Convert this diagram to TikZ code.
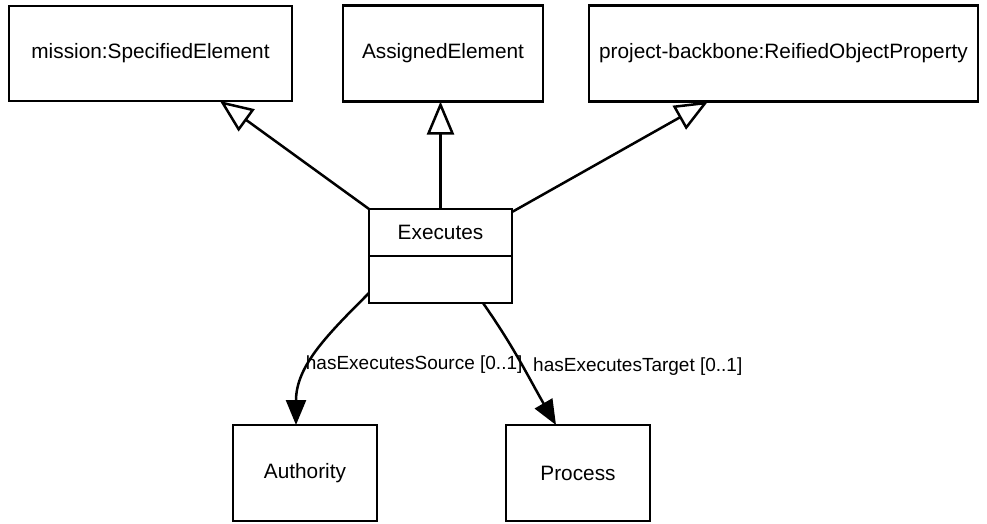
\documentclass[tikz,border=0pt]{standalone}
\usepackage{fontspec}
\setmainfont{Liberation Sans}
\usetikzlibrary{arrows.meta,positioning}

\begin{document}
\begin{tikzpicture}[
  x=1pt,y=1pt,
  cls/.style={draw,line width=2.5pt,fill=white,outer sep=0pt,inner sep=0pt,font=\fontsize{20.8}{24}\selectfont,align=center},
  gen/.style={-{Triangle[open,length=33pt,width=27pt]},line width=2.5pt},
  assoc/.style={-{Triangle[length=25pt,width=20pt]},line width=2.5pt},
  lbl/.style={font=\fontsize{19}{22}\selectfont,inner sep=2pt}
]
\useasboundingbox (0,0) rectangle (987,-523);
% superclasses
\node[cls,minimum width=283pt,minimum height=95pt] (mission) at (150.5,-53.5) {mission:SpecifiedElement};
\node[cls,minimum width=200pt,minimum height=96pt,right=51pt of mission] (assigned) {AssignedElement};
\node[cls,minimum width=389pt,minimum height=96pt,right=46pt of assigned] (backbone) {project-backbone:ReifiedObjectProperty};
% the class itself
\node[cls,minimum width=143pt,minimum height=47pt] (exec) at (440.5,-232.5) {Executes};
\node[cls,minimum width=143pt,minimum height=47pt,below=0pt of exec] (execbody) {};
% targets
\node[cls,minimum width=144pt,minimum height=96pt] (authority) at (305,-473) {Authority};
\node[cls,minimum width=144pt,minimum height=96pt] (process) at (578,-473) {Process};
\draw[gen] (exec.north west)--([xshift=69.5pt]mission.south);
\draw[gen] (exec.north)--(exec.north |- assigned.south);
\draw[gen] ([yshift=-3pt]exec.north east)--([xshift=-75.5pt]backbone.south);
\draw[assoc] ([yshift=-13.5pt]execbody.west) to[out=225,in=90] node[lbl,pos=0.6,anchor=west,xshift=-7pt]{hasExecutesSource [0..1]} ([xshift=-9pt]authority.north);
\draw[assoc] ([xshift=42.5pt]execbody.south) to[out=-55,in=120] node[lbl,pos=0.53,anchor=west,xshift=7pt]{hasExecutesTarget [0..1]} ([xshift=-22pt]process.north);
\end{tikzpicture}
\end{document}
